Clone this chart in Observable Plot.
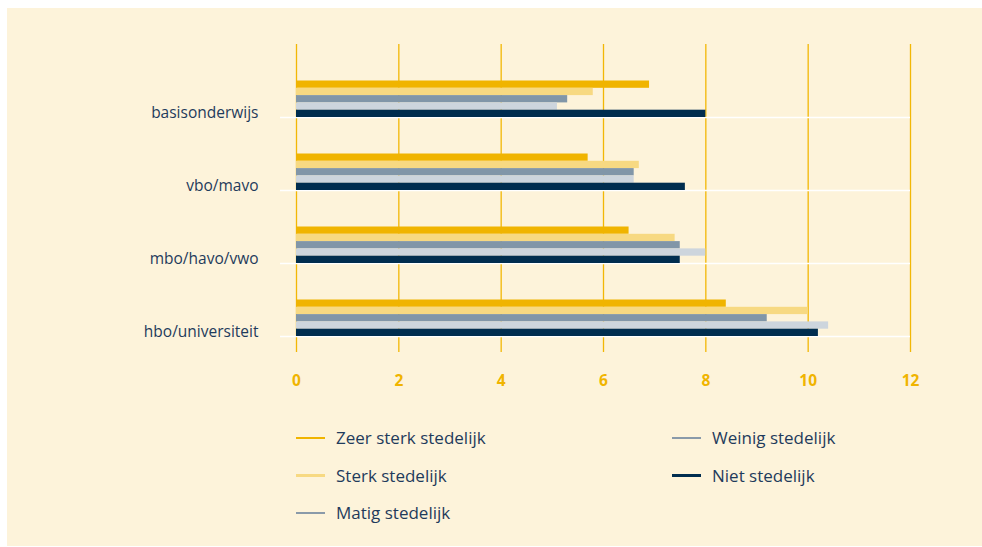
<!DOCTYPE html>
<html>
<head>
<meta charset="utf-8">
<script src="https://cdn.jsdelivr.net/npm/d3@7"></script>
<script src="https://cdn.jsdelivr.net/npm/@observablehq/plot@0.6"></script>
<style>
  html, body { margin: 0; padding: 0; background: #ffffff; }
  body { width: 982px; height: 547px; position: relative; overflow: hidden; font-family: "Open Sans", "Lato", sans-serif; }
  #panel { position: absolute; left: 7px; top: 8px; width: 975px; height: 538px; background: #fdf3da; }
  #chart { position: absolute; left: 0; top: 0; }
  #legend { position: absolute; left: 296px; top: 419px; display: grid; grid-auto-flow: column;
            grid-template-rows: repeat(3, 37.5px); grid-template-columns: 376px auto; }
  .item { display: flex; align-items: center; font-size: 17px; font-weight: 500; color: #1f3b5c; }
  .sw { width: 29px; height: 2.5px; margin-right: 11px; }
</style>
</head>
<body>
<div id="panel"></div>
<div id="chart"></div>
<div id="legend"></div>
<script>
const categories = ["basisonderwijs", "vbo/mavo", "mbo/havo/vwo", "hbo/universiteit"];
const series = ["Zeer sterk stedelijk", "Sterk stedelijk", "Matig stedelijk", "Weinig stedelijk", "Niet stedelijk"];
const zeerSterk = [6.9, 5.7, 6.5, 8.4];
const sterk     = [5.8, 6.7, 7.4, 10.0];
const matig     = [5.3, 6.6, 7.5, 9.2];
const weinig    = [5.1, 6.6, 8.0, 10.4];
const niet      = [8.0, 7.6, 7.5, 10.2];
const xTicks = [0, 2, 4, 6, 8, 10, 12];

const colors = ["#f0b400", "#f7d982", "#8196a8", "#cdd5dd", "#002d4f"];
const legendColors = ["#f0b400", "#f7d982", "#8a9aa9", "#8a9aa9", "#002d4f"];

const seriesValues = [zeerSterk, sterk, matig, weinig, niet];
const rows = [];
categories.forEach((c, i) => series.forEach((s, j) => rows.push({cat: c, series: s, value: seriesValues[j][i]})));

const key = (c, s) => c + "|" + s;
const yKeys = [];
categories.forEach(c => {
  for (let k = 0; k < 5; k++) yKeys.push(key(c, "gap" + k));
  series.forEach(s => yKeys.push(key(c, s)));
});

const plot = Plot.plot({
  width: 982,
  height: 400,
  marginLeft: 296,
  marginRight: 72,
  marginTop: 44,
  marginBottom: 48,
  style: {background: "transparent", fontFamily: "'Open Sans', 'Lato', sans-serif", overflow: "visible"},
  x: {domain: [0, 12], axis: null, label: null},
  y: {type: "band", domain: yKeys, range: [44, 336], padding: 0, round: false, axis: null, label: null},
  color: {domain: series, range: colors},
  marks: [
    Plot.gridX(xTicks, {stroke: "#f2b705", strokeOpacity: 1, strokeWidth: 1.3}),
    Plot.ruleY(categories, {y: c => key(c, "Niet stedelijk"), dy: 3.65, stroke: "#ffffff", strokeWidth: 1.5, insetLeft: -16}),
    Plot.barX(rows, {x: "value", y: d => key(d.cat, d.series), fill: "series"}),
    Plot.text(categories, {y: c => key(c, "Niet stedelijk"), frameAnchor: "left", dx: -38, dy: -1, textAnchor: "end",
      text: d => d, fill: "#1f3b5c", fontSize: 15.5, fontWeight: 500}),
    Plot.axisX(xTicks, {tickSize: 0, tickPadding: 22, fill: "#f0b400", fontWeight: "bold", fontSize: 15.5, label: null, tickFormat: d => String(d)})
  ]
});
document.getElementById("chart").appendChild(plot);

const legend = document.getElementById("legend");
series.forEach((s, j) => {
  const it = document.createElement("div");
  it.className = "item";
  const sw = document.createElement("span");
  sw.className = "sw";
  sw.style.background = legendColors[j];
  it.appendChild(sw);
  const t = document.createElement("span");
  t.textContent = s;
  it.appendChild(t);
  legend.appendChild(it);
});
</script>
</body>
</html>
